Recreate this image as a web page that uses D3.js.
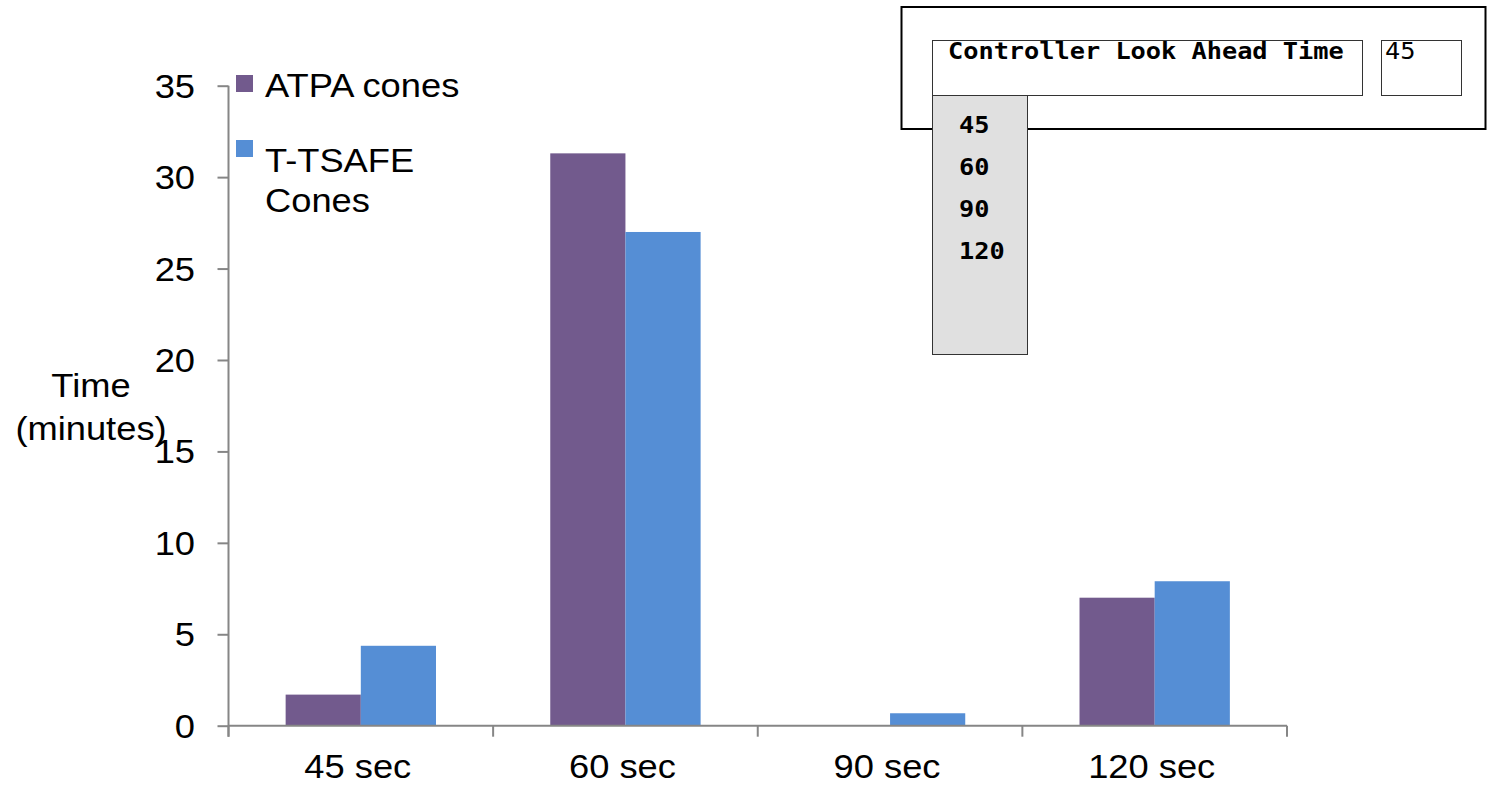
<!DOCTYPE html>
<html>
<head>
<meta charset="utf-8">
<script src="https://cdn.jsdelivr.net/npm/d3@7/dist/d3.min.js"></script>
<style>
  html, body { margin: 0; padding: 0; background: #fff; }
  svg { display: block; }
</style>
</head>
<body>
<svg id="chart" width="1488" height="786"></svg>
<script>
// Chart data
const categories = ["45 sec", "60 sec", "90 sec", "120 sec"];
const seriesNames = ["ATPA cones", "T-TSAFE Cones"];
const atpaCones = [1.7, 31.3, 0, 7.0];
const ttsafeCones = [4.37, 27.0, 0.68, 7.9];
const yTicks = [0, 5, 10, 15, 20, 25, 30, 35];
const seriesColors = ["#725A8D", "#558ED5"];

// Look-ahead selector panel
const selectorLabel = "Controller Look Ahead Time";
const selectorValue = "45";
const selectorOptions = ["45", "60", "90", "120"];

const svg = d3.select("#chart");
const SX = 1.1; // horizontal text stretch
const sans = "'Liberation Sans', Arial, sans-serif";
const mono = "'DejaVu Sans Mono', monospace";

function label(g, x, y, str, opts = {}) {
  return g.append("text")
    .attr("transform", `translate(${x},${y}) scale(${SX},1)`)
    .attr("text-anchor", opts.anchor || "start")
    .attr("font-family", opts.family || sans)
    .attr("font-size", opts.size || 33)
    .attr("font-weight", opts.weight || "normal")
    .attr("fill", "#000")
    .text(str);
}

const plot = { left: 228.5, right: 1287, top: 85.7, bottom: 725.7 };

const x0 = d3.scaleBand().domain(categories).range([plot.left, plot.right]).padding(0);
const x1 = d3.scaleBand().domain(seriesNames).range([0, x0.bandwidth()])
  .paddingInner(0).paddingOuter(0.76);
const y = d3.scaleLinear().domain([0, 35]).range([plot.bottom, plot.top]);

const rows = categories.map((c, i) => ({ cat: c, vals: [atpaCones[i], ttsafeCones[i]] }));

// Bars
const groups = svg.append("g").selectAll("g").data(rows).join("g")
  .attr("transform", d => `translate(${x0(d.cat)},0)`);
groups.selectAll("rect")
  .data(d => d.vals.map((v, k) => ({ name: seriesNames[k], v, k })))
  .join("rect")
  .attr("x", d => x1(d.name))
  .attr("width", x1.bandwidth())
  .attr("y", d => y(d.v))
  .attr("height", d => plot.bottom - y(d.v))
  .attr("fill", d => seriesColors[d.k]);

// Y axis
const yAxis = d3.axisLeft(y).tickValues(yTicks).tickSize(11).tickFormat("");
const yg = svg.append("g").attr("transform", `translate(${plot.left},0)`).call(yAxis);
yg.select(".domain").remove();
yg.selectAll("line").attr("stroke", "#868686").attr("stroke-width", 2);
svg.append("line")
  .attr("x1", plot.left).attr("x2", plot.left)
  .attr("y1", plot.top).attr("y2", plot.bottom + 11)
  .attr("stroke", "#868686").attr("stroke-width", 2);
yTicks.forEach(t => label(svg, 195, y(t) + 12, String(t), { anchor: "end" }));

// X axis
const xg = svg.append("g").attr("transform", `translate(0,${plot.bottom})`);
xg.append("line").attr("x1", plot.left).attr("x2", plot.right)
  .attr("stroke", "#868686").attr("stroke-width", 2);
const xEdges = categories.map(c => x0(c)).concat([plot.right]);
xg.selectAll("line.tick").data(xEdges).join("line").attr("class", "tick")
  .attr("x1", d => d).attr("x2", d => d).attr("y1", 0).attr("y2", 11)
  .attr("stroke", "#868686").attr("stroke-width", 2);
categories.forEach(c => label(svg, x0(c) + x0.bandwidth() / 2 - 3, 778, c, { anchor: "middle" }));

// Y axis title
label(svg, 91, 397, "Time", { anchor: "middle" });
label(svg, 91, 440, "(minutes)", { anchor: "middle" });

// Legend
const leg = svg.append("g");
leg.append("rect").attr("x", 236).attr("y", 75).attr("width", 17).attr("height", 17).attr("fill", seriesColors[0]);
label(leg, 265, 97, "ATPA cones");
leg.append("rect").attr("x", 236).attr("y", 140).attr("width", 17).attr("height", 17).attr("fill", seriesColors[1]);
label(leg, 265, 172, "T-TSAFE");
label(leg, 265, 212, "Cones");

// Selector panel
const panel = svg.append("g");
panel.append("rect").attr("x", 901.5).attr("y", 7).attr("width", 584).attr("height", 122)
  .attr("fill", "#fff").attr("stroke", "#000").attr("stroke-width", 2);
panel.append("rect").attr("x", 932.5).attr("y", 40.5).attr("width", 430).attr("height", 55)
  .attr("fill", "#fff").attr("stroke", "#333").attr("stroke-width", 1);
panel.append("rect").attr("x", 1381.5).attr("y", 40.5).attr("width", 80).attr("height", 55)
  .attr("fill", "#fff").attr("stroke", "#333").attr("stroke-width", 1);
label(panel, 948, 59, selectorLabel, { family: mono, size: 23, weight: "bold" });
label(panel, 1385, 59, selectorValue, { family: mono, size: 23 });
panel.append("rect").attr("x", 932.5).attr("y", 95.5).attr("width", 95).attr("height", 259)
  .attr("fill", "#E0E0E0").attr("stroke", "#333").attr("stroke-width", 1);
selectorOptions.forEach((o, i) =>
  label(panel, 959, 133 + i * 42, o, { family: mono, size: 23, weight: "bold" }));
</script>
</body>
</html>
